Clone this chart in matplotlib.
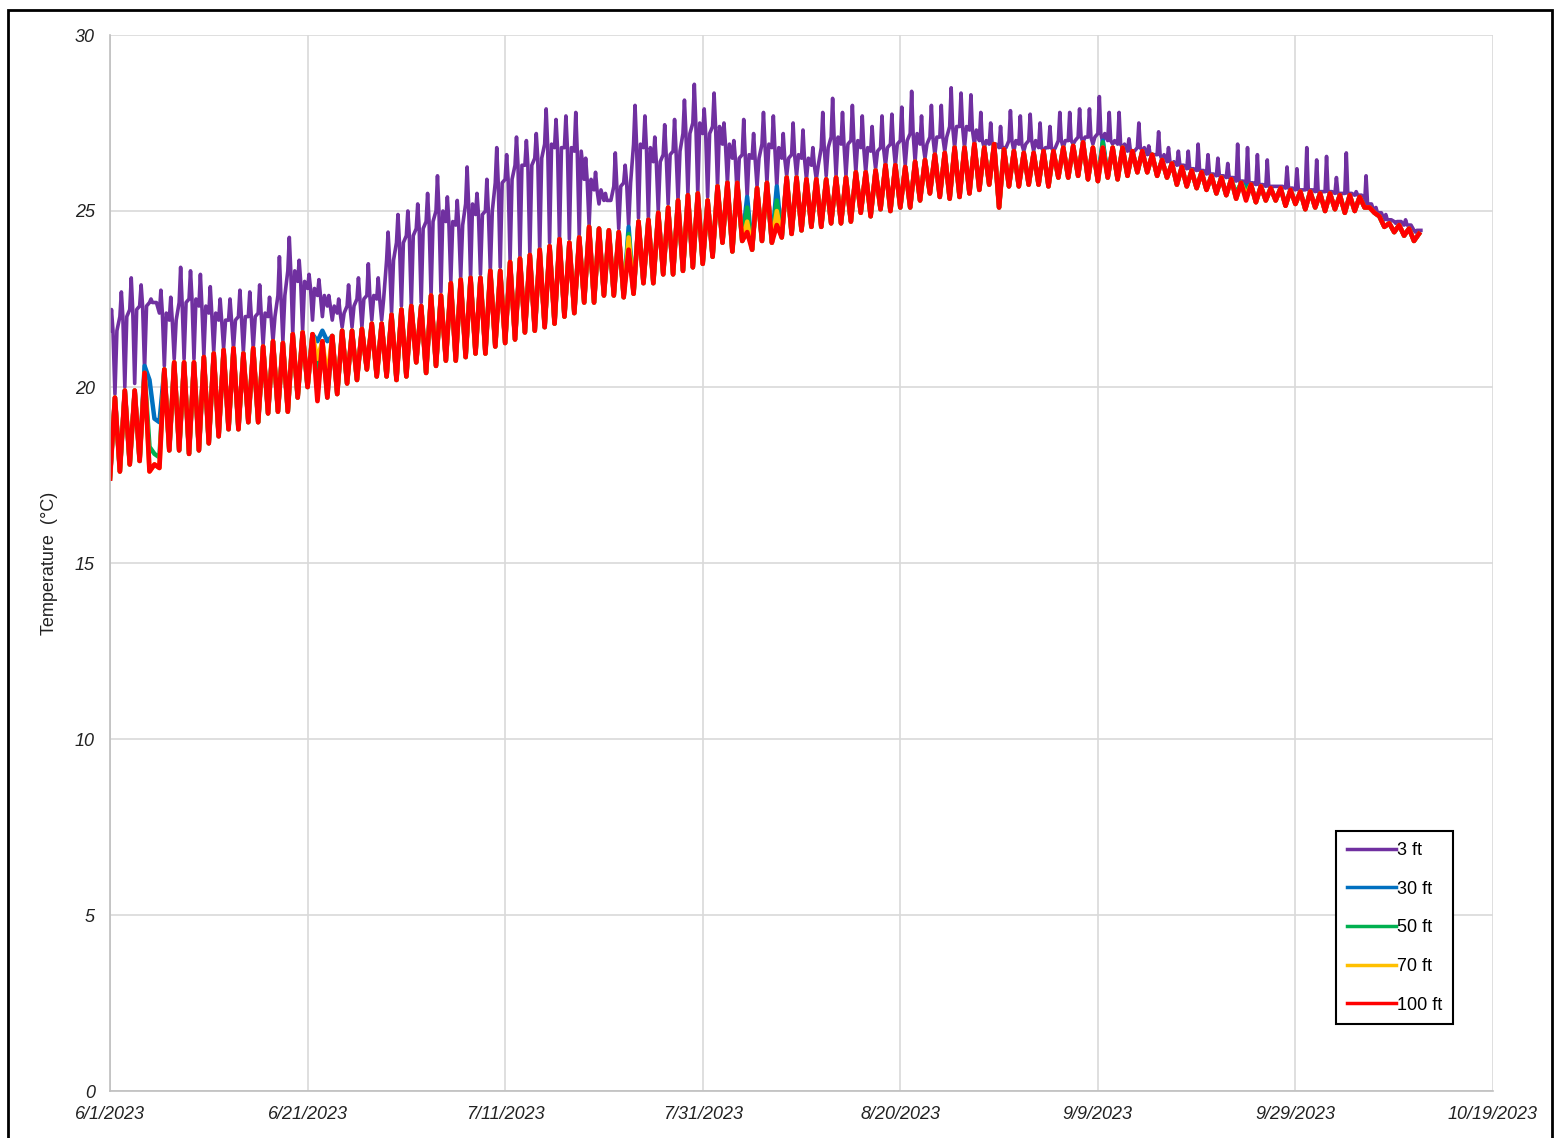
import numpy as np
import matplotlib
matplotlib.use("Agg")
import matplotlib.pyplot as plt
from matplotlib.patches import Rectangle

plt.rcParams['font.family'] = ['Liberation Sans', 'DejaVu Sans']

# Daily readings, day 0 = 6/1/2023
# 100 ft logger: nightly low and afternoon high
t100_lo = [17.4, 17.6, 17.8, 17.9, 17.6, 17.7, 18.2, 18.2, 18.1, 18.2, 18.4, 18.6,
           18.8, 18.8, 19.0, 19.0, 19.25, 19.3, 19.3, 19.7, 20.0, 19.6, 19.7, 19.8,
           20.1, 20.2, 20.5, 20.3, 20.3, 20.2, 20.3, 20.7, 20.4, 20.6, 20.75, 20.75,
           20.85, 20.95, 20.95, 21.15, 21.25, 21.35, 21.55, 21.6, 21.7, 21.8, 22.0, 22.1,
           22.4, 22.4, 22.6, 22.6, 22.55, 22.65, 22.95, 22.95, 23.2, 23.2, 23.3, 23.4,
           23.5, 23.7, 24.1, 23.85, 24.15, 23.9, 24.15, 24.1, 24.25, 24.35, 24.45, 24.55,
           24.55, 24.65, 24.65, 24.7, 24.95, 24.85, 25.05, 25.0, 25.1, 25.1, 25.3, 25.5,
           25.4, 25.35, 25.4, 25.5, 25.6, 25.75, 25.1, 25.7, 25.7, 25.75, 25.75, 25.7,
           25.95, 25.95, 26.0, 25.9, 25.85, 25.95, 25.9, 26.0, 26.1, 26.1, 26.0, 25.95,
           25.75, 25.7, 25.65, 25.6, 25.5, 25.45, 25.35, 25.3, 25.25, 25.3, 25.3, 25.15,
           25.2, 25.05, 25.1, 25.0, 25.05, 24.95, 25.0, 25.1, 24.95, 24.55, 24.4, 24.3, 24.15]
t100_hi = [19.7, 19.9, 19.9, 20.4, 17.8, 20.5, 20.7, 20.7, 20.7, 20.85, 20.95, 21.05,
           21.1, 20.95, 21.1, 21.15, 21.3, 21.25, 21.5, 21.55, 21.5, 21.3, 21.45, 21.6,
           21.6, 21.65, 21.8, 21.8, 22.05, 22.2, 22.3, 22.3, 22.6, 22.6, 22.95, 23.05,
           23.1, 23.1, 23.3, 23.3, 23.55, 23.65, 23.75, 23.9, 24.0, 24.2, 24.1, 24.25,
           24.55, 24.5, 24.45, 24.4, 23.9, 24.7, 24.75, 24.95, 25.1, 25.3, 25.45, 25.5,
           25.3, 25.7, 25.8, 25.8, 24.4, 25.65, 25.8, 24.6, 25.95, 25.95, 25.9, 25.9,
           25.9, 25.95, 25.95, 26.1, 26.1, 26.15, 26.3, 26.3, 26.25, 26.4, 26.45, 26.6,
           26.65, 26.8, 26.8, 26.9, 26.8, 26.9, 26.75, 26.7, 26.65, 26.65, 26.7, 26.7,
           26.8, 26.85, 26.95, 26.8, 26.8, 26.8, 26.8, 26.7, 26.7, 26.6, 26.45, 26.35,
           26.25, 26.15, 26.1, 26.0, 25.95, 25.9, 25.8, 25.75, 25.7, 25.65, 25.65, 25.6,
           25.55, 25.55, 25.5, 25.5, 25.45, 25.45, 25.4, 25.1, 24.85, 24.65, 24.6, 24.5, 24.35]

# 3 ft logger: daytime level, short spike and the nightly drop
t3_base = [21.6, 22.0, 22.2, 22.3, 22.4, 22.1, 21.9, 22.4, 22.5, 22.3, 22.1, 21.9,
           21.9, 22.0, 22.0, 22.1, 22.0, 22.6, 23.3, 23.0, 22.8, 22.6, 22.3, 22.1,
           22.3, 22.5, 22.6, 22.5, 23.6, 24.1, 24.3, 24.5, 24.7, 25.0, 24.7, 24.6,
           25.2, 24.9, 25.0, 25.8, 25.9, 26.3, 26.3, 26.5, 26.9, 26.8, 26.8, 26.7,
           25.9, 25.6, 25.3, 25.7, 25.8, 26.9, 26.8, 26.4, 26.6, 26.7, 27.2, 27.5,
           27.2, 27.4, 26.9, 26.5, 26.6, 26.5, 26.9, 26.8, 26.5, 26.6, 26.5, 26.3,
           26.8, 27.1, 26.9, 27.0, 26.8, 26.7, 26.8, 26.9, 27.0, 27.2, 26.9, 27.1,
           27.1, 27.4, 27.4, 27.3, 27.0, 26.9, 26.8, 27.0, 26.9, 27.0, 26.8, 26.8,
           27.0, 27.0, 27.1, 27.1, 27.2, 27.0, 26.9, 26.7, 26.8, 26.6, 26.6, 26.4,
           26.3, 26.2, 26.15, 26.05, 26.0, 25.95, 25.85, 25.8, 25.75, 25.7, 25.7, 25.65,
           25.6, 25.6, 25.55, 25.55, 25.5, 25.5, 25.45, 25.2, 24.95, 24.75, 24.7, 24.6, 24.45]
t3_peak = [22.2, 22.7, 23.1, 22.9, 22.5, 22.75, 22.55, 23.4, 23.3, 23.2, 22.85, 22.5,
           22.5, 22.75, 22.7, 22.9, 22.55, 23.7, 24.25, 23.6, 23.2, 23.05, 22.6, 22.5,
           22.9, 23.1, 23.5, 23.1, 24.4, 24.9, 25.0, 25.2, 25.5, 26.0, 25.4, 25.3,
           26.25, 25.5, 25.9, 26.8, 26.6, 27.1, 27.0, 27.2, 27.9, 27.6, 27.7, 27.8,
           26.5, 26.1, 25.5, 26.65, 26.3, 28.0, 27.7, 27.1, 27.45, 27.6, 28.15, 28.6,
           27.9, 28.35, 27.5, 27.0, 27.6, 27.2, 27.8, 27.7, 27.2, 27.5, 27.3, 26.8,
           27.8, 28.2, 27.8, 28.0, 27.7, 27.4, 27.7, 27.75, 27.95, 28.4, 27.7, 28.0,
           28.0, 28.5, 28.35, 28.3, 27.8, 27.5, 27.4, 27.85, 27.7, 27.75, 27.5, 27.4,
           27.8, 27.8, 27.9, 27.9, 28.25, 27.8, 27.8, 27.05, 27.5, 26.85, 27.25, 26.8,
           26.7, 26.7, 26.9, 26.6, 26.5, 26.35, 26.9, 26.8, 26.6, 26.45, 25.7, 26.25,
           26.2, 26.8, 26.45, 26.55, 25.95, 26.65, 25.55, 26.0, 25.1, 24.9, 24.65, 24.75, 24.4]
t3_dip = [19.8, 20.0, 20.1, 20.5, 22.4, 20.6, 20.8, 20.8, 20.8, 20.9, 21.0, 21.1,
          21.1, 21.0, 21.1, 21.2, 21.3, 21.3, 21.5, 21.6, 21.9, 22.0, 21.9, 21.7,
          21.7, 21.7, 21.9, 21.9, 22.1, 22.3, 22.3, 22.4, 22.6, 22.7, 23.0, 23.1,
          23.1, 23.2, 23.3, 23.4, 23.6, 23.7, 23.8, 23.9, 24.1, 24.2, 24.2, 24.3,
          24.6, 25.2, 25.3, 24.5, 24.6, 24.8, 24.8, 25.0, 25.2, 25.3, 25.5, 25.5,
          25.4, 25.7, 25.8, 25.4, 25.4, 25.7, 25.8, 25.7, 26.0, 26.0, 25.9, 25.9,
          26.0, 26.0, 26.0, 26.1, 26.1, 26.2, 26.3, 26.3, 26.3, 26.4, 26.5, 26.6,
          26.7, 26.8, 26.8, 26.9, 26.8, 26.9, 26.8, 26.7, 26.7, 26.7, 26.7, 26.7,
          26.8, 26.9, 26.95, 26.9, 26.95, 26.9, 26.8, 26.7, 26.7, 26.6, 26.45, 26.35,
          26.3, 26.2, 26.15, 26.05, 26.0, 25.95, 25.85, 25.8, 25.75, 25.7, 25.7, 25.65,
          25.6, 25.6, 25.55, 25.55, 25.5, 25.5, 25.45, 25.2, 24.95, 24.75, 24.7, 24.6, 24.45]

# 30/50/70 ft follow the 100 ft record except on these days: day -> (low, high)
dev_30 = {3: (None, 20.6), 4: (20.2, 19.1), 5: (19.0, None), 21: (21.3, 21.6),
          22: (21.3, None), 52: (None, 24.55), 64: (None, 25.4), 67: (None, 25.7),
          100: (None, 27.0), 115: (25.7, None)}
dev_50 = {4: (18.3, 18.1), 5: (18.0, None), 21: (20.5, None), 52: (None, 24.35),
          64: (None, 25.1), 67: (None, 25.3), 100: (None, 26.95), 114: (25.5, None),
          115: (25.6, None)}
dev_70 = {21: (20.8, None), 22: (20.3, None), 52: (None, 24.25), 64: (None, 24.7),
          67: (None, 25.0), 115: (25.45, None)}

tick_labels = ["6/1/2023", "6/21/2023", "7/11/2023", "7/31/2023",
               "8/20/2023", "9/9/2023", "9/29/2023", "10/19/2023"]
tick_days = [0, 20, 40, 60, 80, 100, 120, 140]

days = np.arange(len(t100_hi))


def daily_trace(lo, hi):
    t = (days[:, None] + np.array([0.0, 0.5])).ravel()
    y = np.column_stack([lo, hi]).ravel()
    return t, y


def shallow_trace(base, peak, dip):
    t = (days[:, None] + np.array([0.0, 0.15, 0.3, 0.5, 0.7])).ravel()
    y = np.column_stack([base, peak, base, dip, base]).ravel()
    return t, y


def apply_dev(dev):
    lo, hi = list(t100_lo), list(t100_hi)
    for d, (l, h) in dev.items():
        if l is not None:
            lo[d] = l
        if h is not None:
            hi[d] = h
    return lo, hi


fig = plt.figure(figsize=(15.54, 11.38), dpi=100)
ax = fig.add_axes([110 / 1554, 1 - 1091 / 1138, 1383 / 1554, 1056 / 1138])

series = [
    ("3 ft", "#7030a0", 2.6, shallow_trace(t3_base, t3_peak, t3_dip)),
    ("30 ft", "#0070c0", 3.2, daily_trace(*apply_dev(dev_30))),
    ("50 ft", "#00b050", 3.2, daily_trace(*apply_dev(dev_50))),
    ("70 ft", "#ffc000", 3.2, daily_trace(*apply_dev(dev_70))),
    ("100 ft", "#ff0000", 3.4, daily_trace(t100_lo, t100_hi)),
]
for name, col, lw, (t, y) in series:
    ax.plot(t, y, color=col, lw=lw, label=name, solid_joinstyle="round")

ax.set_xlim(0, 140)
ax.set_ylim(0, 30)
ax.set_xticks(tick_days)
ax.set_xticklabels(tick_labels)
ax.set_yticks(range(0, 31, 5))
ax.tick_params(axis="both", length=0, labelsize=13)
ax.tick_params(axis="y", pad=11)
ax.tick_params(axis="x", pad=11)
for lab in ax.get_xticklabels() + ax.get_yticklabels():
    lab.set_fontstyle("italic")
    lab.set_color("#222222")

ax.grid(True, color="#d9d9d9", lw=1.2)
ax.set_axisbelow(True)
for side in ["top", "right"]:
    ax.spines[side].set_visible(False)
for side in ["left", "bottom"]:
    ax.spines[side].set_color("#bfbfbf")
    ax.spines[side].set_linewidth(1.2)

ax.set_ylabel("Temperature  (°C)", fontsize=13, color="#222222")
ax.yaxis.set_label_coords(-0.0376, 0.5)

leg = ax.legend(loc="upper left", bbox_to_anchor=(0.8865, 0.2462), borderaxespad=0,
                fontsize=13, handlelength=2.7, handletextpad=0.05, labelspacing=1.2,
                fancybox=False, framealpha=1, edgecolor="black", borderpad=0.6)
leg.get_frame().set_linewidth(1.5)
for line in leg.get_lines():
    line.set_linewidth(2.5)

fig.add_artist(Rectangle((8 / 1554, -0.01), 1544 / 1554, 1.01 - 10 / 1138,
                         transform=fig.transFigure, fill=False, ec="black", lw=2))

fig.savefig("out.png", dpi=100)
